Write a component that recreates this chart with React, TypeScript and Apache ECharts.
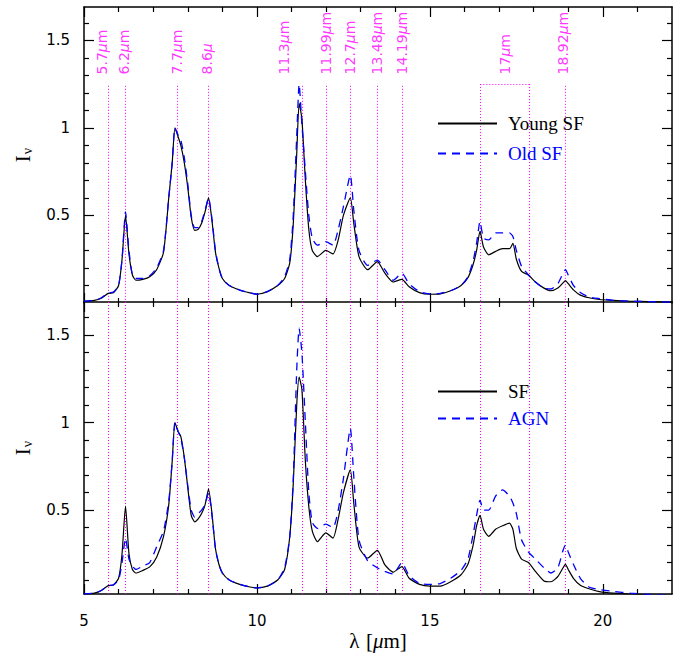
import React, { useEffect, useRef } from 'react';
import * as echarts from 'echarts';

const wavelength = [
  5.0, 5.3, 5.5, 5.7, 5.85,
  6.0, 6.1, 6.2, 6.3, 6.4, 6.5, 6.7, 6.9,
  7.1, 7.3, 7.45, 7.55, 7.63, 7.72, 7.8, 7.9,
  8.0, 8.1, 8.2, 8.3, 8.4, 8.5, 8.6, 8.7, 8.8, 8.9,
  9.0, 9.2, 9.5, 9.8,
  10.0, 10.3, 10.6, 10.8, 10.95,
  11.05, 11.15, 11.22, 11.3, 11.4, 11.5, 11.6, 11.75, 11.99,
  12.2, 12.35, 12.5, 12.7, 12.8, 12.95,
  13.2, 13.48, 13.7, 13.94,
  14.19, 14.4, 14.7,
  15.0, 15.3, 15.6, 15.9,
  16.1, 16.25, 16.35, 16.45, 16.55, 16.7, 16.9,
  17.1, 17.3, 17.4, 17.5, 17.65, 17.85,
  18.05, 18.3, 18.5, 18.7, 18.85, 18.92,
  19.0, 19.15, 19.35, 19.6, 19.9,
  20.3, 20.8, 21.3, 22.0,
];

const youngSF = [
  0.01, 0.015, 0.027, 0.055, 0.058,
  0.1, 0.25, 0.5, 0.28, 0.16, 0.13, 0.135, 0.15,
  0.19, 0.29, 0.6, 0.8, 1.0, 0.95, 0.9, 0.8,
  0.66, 0.49, 0.415, 0.42, 0.455, 0.52, 0.6, 0.47, 0.29, 0.2,
  0.14, 0.1, 0.074, 0.058,
  0.05, 0.065, 0.1, 0.14, 0.23,
  0.45, 0.85, 1.14, 1.05, 0.7, 0.42, 0.3, 0.265, 0.3,
  0.28, 0.36, 0.5, 0.6, 0.455, 0.265,
  0.19, 0.236, 0.17, 0.12,
  0.135, 0.093, 0.059,
  0.05, 0.052, 0.07, 0.1,
  0.145, 0.22, 0.3, 0.41, 0.32, 0.275, 0.295,
  0.31, 0.31, 0.34, 0.25, 0.18, 0.16,
  0.12, 0.085, 0.07, 0.085, 0.115, 0.128,
  0.11, 0.075, 0.045, 0.03, 0.02,
  0.015, 0.01, 0.008, 0.005,
];

const oldSF = [
  0.01, 0.015, 0.03, 0.058, 0.062,
  0.1, 0.25, 0.52, 0.3, 0.16, 0.14, 0.14, 0.155,
  0.2, 0.3, 0.6, 0.8, 1.0, 0.96, 0.93, 0.83,
  0.68, 0.5, 0.43, 0.43, 0.465, 0.53, 0.6, 0.48, 0.3, 0.2,
  0.14, 0.1, 0.074, 0.058,
  0.05, 0.065, 0.1, 0.15, 0.25,
  0.5, 0.95, 1.25, 1.02, 0.75, 0.5, 0.37, 0.33, 0.35,
  0.33, 0.42, 0.55, 0.73, 0.53, 0.3,
  0.215, 0.245, 0.19, 0.13,
  0.17, 0.11, 0.065,
  0.052, 0.055, 0.07, 0.1,
  0.15, 0.24, 0.34, 0.465, 0.37, 0.36, 0.4,
  0.4, 0.4, 0.38, 0.3, 0.21, 0.16,
  0.12, 0.085, 0.08, 0.11, 0.17, 0.19,
  0.16, 0.1, 0.06, 0.035, 0.025,
  0.015, 0.01, 0.008, 0.005,
];

const sfSpectrum = [
  0.02, 0.025, 0.04, 0.068, 0.072,
  0.11, 0.25, 0.523, 0.25, 0.16, 0.14, 0.155, 0.175,
  0.23, 0.35, 0.53, 0.78, 1.0, 0.95, 0.92, 0.8,
  0.63, 0.47, 0.433, 0.45, 0.48, 0.53, 0.62, 0.48, 0.28, 0.19,
  0.14, 0.1, 0.075, 0.06,
  0.055, 0.065, 0.1, 0.16, 0.35,
  0.65, 1.1, 1.26, 1.19, 0.78, 0.52, 0.38, 0.32, 0.37,
  0.34, 0.45, 0.6, 0.73, 0.54, 0.29,
  0.225, 0.27, 0.186, 0.145,
  0.177, 0.11, 0.075,
  0.065, 0.065, 0.09, 0.13,
  0.19, 0.3, 0.41, 0.47, 0.39, 0.35, 0.39,
  0.41, 0.425, 0.39, 0.28, 0.22, 0.2,
  0.15, 0.095, 0.09, 0.12, 0.17, 0.19,
  0.16, 0.11, 0.07, 0.05, 0.034,
  0.025, 0.02, 0.015, 0.012,
];

const agnSpectrum = [
  0.02, 0.025, 0.04, 0.068, 0.072,
  0.1, 0.2, 0.34, 0.22, 0.18, 0.16, 0.18, 0.2,
  0.29, 0.38, 0.55, 0.78, 1.0, 0.95, 0.91, 0.8,
  0.64, 0.5, 0.46, 0.48, 0.5, 0.53, 0.6, 0.47, 0.28, 0.19,
  0.14, 0.1, 0.075, 0.06,
  0.055, 0.065, 0.1, 0.17, 0.35,
  0.68, 1.3, 1.54, 1.4, 1.0, 0.6, 0.43, 0.395, 0.42,
  0.4, 0.5, 0.68, 0.966, 0.69, 0.33,
  0.21, 0.17, 0.15, 0.135,
  0.2, 0.125, 0.08,
  0.075, 0.08, 0.11, 0.155,
  0.22, 0.36, 0.47, 0.557, 0.5, 0.5, 0.58,
  0.615, 0.58, 0.54, 0.48, 0.33, 0.26,
  0.22, 0.17, 0.14, 0.17, 0.27, 0.3,
  0.26, 0.19, 0.11, 0.06, 0.045,
  0.035, 0.025, 0.018, 0.012,
];

const featureLines = [5.7, 6.2, 7.7, 8.6, 11.3, 11.99, 12.7, 13.48, 14.19, 18.92];
const box17 = [16.46, 17.87];
const featureNames = ['5.7', '6.2', '7.7', '8.6', '11.3', '11.99', '12.7', '13.48', '14.19', '17', '18.92'];
const featureLabelX = [5.52, 6.15, 7.68, 8.57, 10.78, 11.99, 12.7, 13.46, 14.19, 17.17, 18.86];

const xMajorTicks = [5, 10, 15, 20];
const xMinorTicks = [6, 7, 8, 9, 11, 12, 13, 14, 16, 17, 18, 19, 21];
const yMajorTicks = [0.5, 1, 1.5];
const yMinorTicks = [0.1, 0.2, 0.3, 0.4, 0.6, 0.7, 0.8, 0.9, 1.1, 1.2, 1.3, 1.4, 1.6];

const topLegend = ['Young SF', 'Old SF'];
const bottomLegend = ['SF', 'AGN'];

const X_MIN = 5, X_MAX = 22;
const Y_MAX = 1.69;
const Y_MIN_TOP = 0, Y_MIN_BOTTOM = 0.02;
const LINE_TOP_TOP = 1.24;
const BOX_TOP = 1.25;
const LABEL_Y = 1.305;

const MAGENTA = '#ff00ff';
const BLUE = '#0000ff';

export default function App() {
  const ref = useRef<HTMLDivElement>(null);
  useEffect(() => {
    if (!ref.current) return;
    const chart = echarts.init(ref.current, null, { renderer: 'svg' });

    const sans = 'DejaVu Sans';
    const serif = 'Liberation Serif';

    const xAxis = (g: number, position: string, ticks: number[], len: number, lineShow: boolean, labels: boolean, name?: string) => ({
      type: 'value', gridIndex: g, min: X_MIN, max: X_MAX, position,
      name: name || '',
      nameLocation: 'middle', nameGap: 36,
      nameTextStyle: { rich: { g: { fontFamily: serif, fontSize: 21, fontStyle: 'italic', color: '#000' }, l: { fontFamily: serif, fontSize: 21, color: '#000' }, n: { fontFamily: serif, fontSize: 21, color: '#000' } } },
      axisLine: { show: lineShow, onZero: false, lineStyle: { color: '#000', width: 1.5 } },
      axisTick: { show: true, inside: true, length: len, customValues: ticks, lineStyle: { color: '#000', width: 1.2 } },
      axisLabel: { show: labels, customValues: xMajorTicks, margin: 19, fontFamily: sans, fontSize: 15, color: '#000' },
      splitLine: { show: false },
    });
    const yAxis = (g: number, position: string, ticks: number[], len: number, lineShow: boolean, labels: boolean, ymin: number, name?: string) => ({
      type: 'value', gridIndex: g, min: ymin, max: Y_MAX, position,
      name: name || '',
      nameLocation: 'middle', nameGap: 50, nameRotate: 90,
      nameTextStyle: { rich: { i: { fontFamily: serif, fontSize: 21, color: '#000' }, s: { fontFamily: serif, fontSize: 14, color: '#000', padding: [9, 0, 0, 1] } } },
      axisLine: { show: lineShow, onZero: false, lineStyle: { color: '#000', width: 1.5 } },
      axisTick: { show: true, inside: true, length: len, customValues: ticks, lineStyle: { color: '#000', width: 1.2 } },
      axisLabel: { show: labels, customValues: yMajorTicks, margin: 14, fontFamily: sans, fontSize: 15, color: '#000', formatter: (v: number) => String(v) },
      splitLine: { show: false },
    });

    const xAxes: any[] = [];
    const yAxes: any[] = [];
    [0, 1].forEach((g) => {
      const ymin = g === 0 ? Y_MIN_TOP : Y_MIN_BOTTOM;
      xAxes.push(xAxis(g, 'bottom', xMajorTicks, 10, g === 1, g === 1, g === 1 ? '{l|λ}  {n|[}{g|μ}{n|m]}' : ''));
      xAxes.push(xAxis(g, 'bottom', xMinorTicks, 5, false, false));
      xAxes.push(xAxis(g, 'top', xMajorTicks, 10, true, false));
      xAxes.push(xAxis(g, 'top', xMinorTicks, 5, false, false));
      yAxes.push(yAxis(g, 'left', yMajorTicks, 10, true, true, ymin, '{i|I}{s|ν}'));
      yAxes.push(yAxis(g, 'left', yMinorTicks, 5, false, false, ymin));
      yAxes.push(yAxis(g, 'right', yMajorTicks, 10, true, false, ymin));
      yAxes.push(yAxis(g, 'right', yMinorTicks, 5, false, false, ymin));
    });

    const pairs = (ys: number[]) => wavelength.map((w, i) => [w, ys[i]]);
    const dotted = { color: MAGENTA, width: 1, type: [1, 2] as any, opacity: 1 };

    const topLines: any[] = featureLines.map((x) => ({ coords: [[x, LINE_TOP_TOP], [x, Y_MIN_TOP]] }));
    topLines.push({ coords: [[box17[0], BOX_TOP], [box17[0], Y_MIN_TOP]] });
    topLines.push({ coords: [[box17[1], BOX_TOP], [box17[1], Y_MIN_TOP]] });
    topLines.push({ coords: [[box17[0], BOX_TOP], [box17[1], BOX_TOP]] });
    const bottomLines = [...featureLines, ...box17].map((x) => ({ coords: [[x, Y_MAX], [x, Y_MIN_BOTTOM]] }));

    const spectrum = (name: string, ys: number[], g: number, dashed: boolean) => ({
      name, type: 'line', xAxisIndex: g * 4, yAxisIndex: g * 4,
      data: pairs(ys), symbol: 'none', showSymbol: false, silent: true, smooth: 0.2,
      lineStyle: dashed ? { color: BLUE, width: 1.3, type: [8, 6] } : { color: '#000', width: 1.2, type: 'solid' },
      itemStyle: { color: dashed ? BLUE : '#000' },
      z: dashed ? 4 : 3,
    });

    const legend = (names: string[], top: number, gap: number) => ({
      orient: 'vertical', left: 437, top, padding: 0, itemWidth: 59, itemHeight: 14, itemGap: gap,
      itemStyle: { opacity: 0 },
      data: names.map((n, i) => ({ name: n, textStyle: { color: i === 0 ? '#000' : BLUE } })),
      textStyle: { fontFamily: serif, fontSize: 19, padding: [0, 0, 0, 6] },
      selectedMode: false,
    });

    chart.setOption({
      animation: false,
      backgroundColor: '#fff',
      grid: [
        { left: 84, top: 7, width: 588, height: 296 },
        { left: 84, top: 302, width: 588, height: 292 },
      ],
      xAxis: xAxes,
      yAxis: yAxes,
      legend: [legend(topLegend, 114, 11), legend(bottomLegend, 382, 8)],
      series: [
        { type: 'lines', coordinateSystem: 'cartesian2d', xAxisIndex: 0, yAxisIndex: 0, polyline: false, silent: true, lineStyle: dotted, data: topLines, z: 1 },
        { type: 'lines', coordinateSystem: 'cartesian2d', xAxisIndex: 4, yAxisIndex: 4, polyline: false, silent: true, lineStyle: dotted, data: bottomLines, z: 1 },
        {
          type: 'scatter', xAxisIndex: 0, yAxisIndex: 0, symbolSize: 1, silent: true,
          itemStyle: { color: 'transparent' },
          data: featureLabelX.map((x, i) => ({ value: [x, LABEL_Y], name: featureNames[i] })),
          label: {
            show: true, position: 'inside', rotate: 90, align: 'left', verticalAlign: 'middle',
            formatter: (p: any) => {
              const i = p.dataIndex;
              const unit = i === 3 ? '{g|μ}' : '{g|μ}{n|m}';
              return `{n|${featureNames[i]}}${unit}`;
            },
            rich: {
              n: { fontFamily: 'DejaVu Sans', fontSize: 14, color: MAGENTA },
              g: { fontFamily: 'DejaVu Sans', fontSize: 14, fontStyle: 'italic', color: MAGENTA },
            },
          },
        },
        spectrum('Young SF', youngSF, 0, false),
        spectrum('Old SF', oldSF, 0, true),
        spectrum('SF', sfSpectrum, 1, false),
        spectrum('AGN', agnSpectrum, 1, true),
      ],
    });
    return () => chart.dispose();
  }, []);
  return <div ref={ref} style={{ position: 'fixed', left: 0, top: 0, width: 683, height: 656, background: '#fff' }} />;
}
